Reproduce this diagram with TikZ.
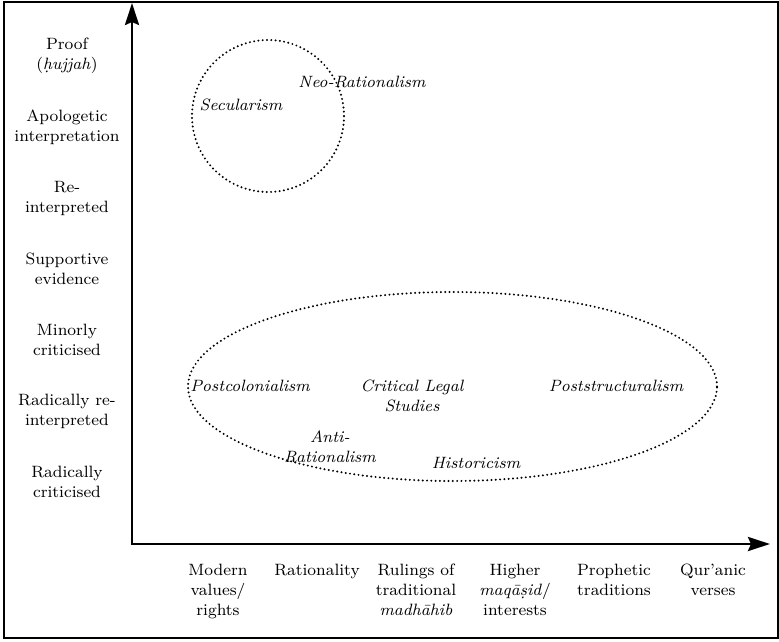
\documentclass[tikz,border=0pt]{standalone}
\usepackage{tikz}
\usetikzlibrary{arrows.meta,shapes.geometric}

\begin{document}
\begin{tikzpicture}[
    x=0.5pt, y=-0.5pt,
    font=\fontsize{8.2}{10}\selectfont,
    lbl/.style={align=center, inner sep=0pt},
    school/.style={align=center, inner sep=0pt, font=\fontsize{8.2}{10}\selectfont\itshape},
    ring/.style={draw, line width=1.1pt, dash pattern=on 0pt off 2.15pt, line cap=round, inner sep=0pt},
    axis/.style={{Stealth[length=11pt,width=7pt,inset=1.5pt]}-{Stealth[length=11pt,width=7pt,inset=1.5pt]}, line width=1.4pt}
  ]
  \useasboundingbox (0,0) rectangle (779,641);
  \draw[line width=1pt] (4,2) rectangle (778,638);

  % axes
  \coordinate (ytip) at (132,3);
  \coordinate (orig) at (132,544);
  \coordinate (xtip) at (770,544);
  \draw[axis] (ytip) -- (orig) -- (xtip);

  % vertical scale
  \node[lbl] (proof) at (67,56) {Proof\\(\textit{\d{h}ujjah})};
  \node[lbl] (apol) at (67,127) {Apologetic\\interpretation};
  \node[lbl] (reint) at (67,198) {Re-\\interpreted};
  \node[lbl] (supp) at (67,269) {Supportive\\evidence};
  \node[lbl] (minor) at (67,340) {Minorly\\criticised};
  \node[lbl] (radre) at (67,411) {Radically re-\\interpreted};
  \node[lbl] (radcr) at (67,482) {Radically\\criticised};

  % horizontal scale
  \node[lbl, anchor=north] (modern) at (218,564) {Modern\\values/\\rights};
  \node[lbl, anchor=north] (ratio) at (317,564) {Rationality};
  \node[lbl, anchor=north] (rulings) at (416,564) {Rulings of\\traditional\\\textit{madh\={a}hib}};
  \node[lbl, anchor=north] (higher) at (515,564) {Higher\\\textit{maq\={a}\d{s}id}/\\interests};
  \node[lbl, anchor=north] (proph) at (614,564) {Prophetic\\traditions};
  \node[lbl, anchor=north] (quran) at (713,564) {Qur’anic\\verses};

  % groupings
  \node[ring, circle, minimum size=76pt] (top) at (268,116) {};
  \node[ring, ellipse, minimum width=264.5pt, minimum height=94.5pt] (bottom) at (452.5,386.5) {};

  \node[school] (secul) at (241,105) {Secularism};
  \node[school] (neo) at (362,82) {Neo-Rationalism};
  \node[school] (postcol) at (250,386) {Postcolonialism};
  \node[school] (cls) at (412,396) {Critical Legal\\Studies};
  \node[school] (poststr) at (616,386) {Poststructuralism};
  \node[school] (anti) at (330,447) {Anti-\\Rationalism};
  \node[school] (hist) at (476,463) {Historicism};
\end{tikzpicture}
\end{document}
